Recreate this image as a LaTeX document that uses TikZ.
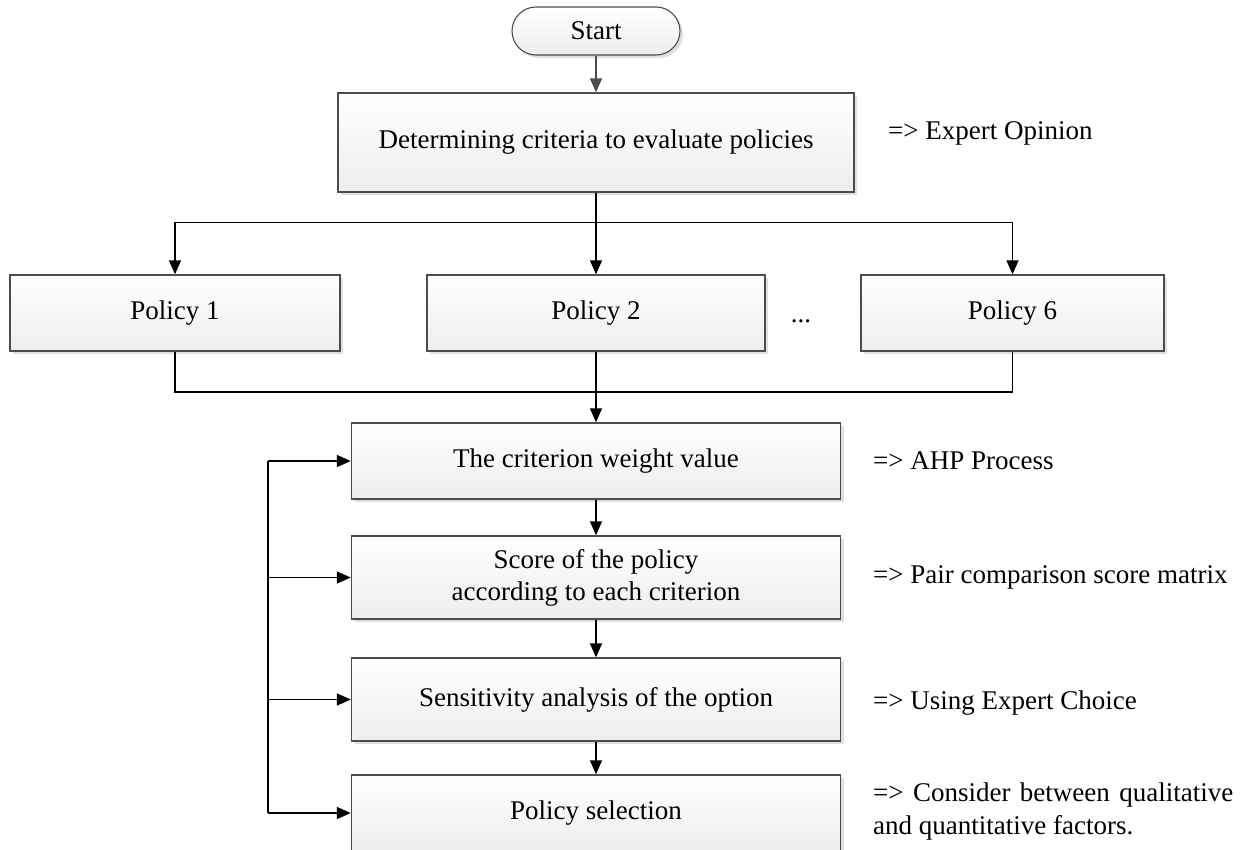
\documentclass[tikz,border=0pt]{standalone}
\usepackage{fontspec}
\setmainfont{Liberation Serif}
\usetikzlibrary{arrows.meta,shadows}
\begin{document}
\begin{tikzpicture}[x=1pt,y=-1pt,
  every node/.style={font=\fontsize{27}{33}\selectfont},
  procbox/.style={draw=black!70,line width=1.4pt,inner sep=0pt,
    top color=white,bottom color=black!7,
    general shadow={fill=black!12,shadow xshift=3pt,shadow yshift=-3pt},
    align=center},
  termbox/.style={procbox,rounded corners=24pt,line width=1.1pt},
  note/.style={anchor=west,inner sep=0pt},
  link/.style={line width=1.5pt,black},
  arr/.style={link,-{Triangle[length=14pt,width=12pt]}}]
\clip (0,0) rectangle (1246,849);
\useasboundingbox (0,0) rectangle (1246,849);
\fill[white] (0,0) rectangle (1246,849);

% boxes
\node[termbox,minimum width=168pt,minimum height=48pt] (start) at (596,31) {Start};
\node[procbox,minimum width=516pt,minimum height=99pt] (crit0) at (596,142.5) {Determining criteria to evaluate policies};
\node[procbox,minimum width=330pt,minimum height=76pt] (p1) at (175,313) {Policy 1};
\node[procbox,minimum width=338pt,minimum height=76pt] (p2) at (596,313) {Policy 2};
\node[procbox,minimum width=303pt,minimum height=76pt] (p6) at (1012.5,313) {Policy 6};
\node[inner sep=0pt] (dots) at (801,321) {...};
\node[procbox,minimum width=489pt,minimum height=76pt] (wt) at (596,461) {The criterion weight value};
\node[procbox,minimum width=489pt,minimum height=83pt] (score) at (596,577.5) {Score of the policy\\[-1pt]according to each criterion};
\node[procbox,minimum width=489pt,minimum height=83pt] (sens) at (596,699.5) {Sensitivity analysis of the option};
\node[procbox,minimum width=489pt,minimum height=76pt] (sel) at (596,813) {Policy selection};

% side notes
\node[note] (n0) at (888,133) {=> Expert Opinion};
\node[note] (n1) at (873,461) {=> AHP Process};
\node[note] (n2) at (873,577) {=> Pair comparison score matrix};
\node[note] (n3) at (873,703) {=> Using Expert Choice};
\node[note,text width=360pt,align=justify] (n4) at (873,811)
  {=> Consider between qualitative and quantitative factors.};

% connectors
\draw[arr,draw=black!70,fill=black!70] (start) -- (crit0);
\draw[link] (crit0.south) -- ++(0,30) coordinate (fork);
\draw[arr] (fork) -| (p1.north);
\draw[arr] (fork) -| (p6.north);
\draw[arr] (fork) -- (p2.north);
\draw[link] (p1.south) |- (596,392) coordinate (join);
\draw[link] (p6.south) |- (join);
\draw[arr] (p2.south) -- (wt.north);
\draw[arr] (wt) -- (score);
\draw[arr] (score) -- (sens);
\draw[arr] (sens) -- (sel);

% feedback rail on the left
\coordinate (rail) at (268,0);
\draw[link] (wt.west -| rail) -- (sel.west -| rail);
\foreach \b in {wt,score,sens,sel}
  \draw[arr] (\b.west -| rail) -- (\b.west);
\end{tikzpicture}
\end{document}
